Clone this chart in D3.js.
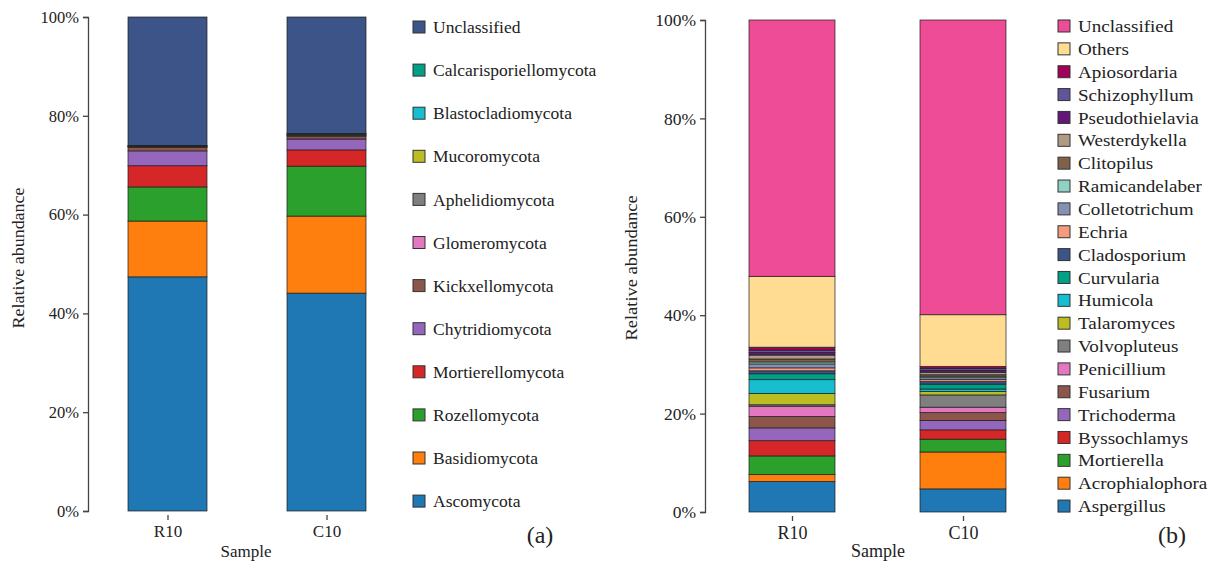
<!DOCTYPE html>
<html>
<head>
<meta charset="utf-8">
<script src="https://cdn.jsdelivr.net/npm/d3@7/dist/d3.min.js"></script>
<style>
  html, body { margin: 0; padding: 0; background: #fff; }
  svg { display: block; }
  text { font-family: "Liberation Serif", "DejaVu Serif", serif; fill: #222; }
</style>
</head>
<body>
<svg id="chart" width="1217" height="563"></svg>
<script>
// Samples shown on both panels
const samples = ["R10", "C10"];
const yTicks = [0, 20, 40, 60, 80, 100];

// Panel (a): phylum level, stacked bottom to top
const phyla = ["Ascomycota", "Basidiomycota", "Rozellomycota", "Mortierellomycota",
  "Chytridiomycota", "Kickxellomycota", "Glomeromycota", "Aphelidiomycota",
  "Mucoromycota", "Blastocladiomycota", "Calcarisporiellomycota", "Unclassified"];
const phylaR10 = [47.4, 11.3, 6.9, 4.3, 3.0, 0.7, 0.1, 0.1, 0.1, 0.05, 0.05, 26.0];
const phylaC10 = [44.1, 15.6, 10.1, 3.3, 2.2, 0.5, 0.2, 0.1, 0.1, 0.1, 0.1, 23.6];
const phylaColors = ["#1f77b4", "#ff7f0e", "#2ca02c", "#d62728", "#9467bd", "#8c564b",
  "#e377c2", "#7f7f7f", "#bcbd22", "#17becf", "#00a087", "#3c5488"];

// Panel (b): genus level, stacked bottom to top
const genera = ["Aspergillus", "Acrophialophora", "Mortierella", "Byssochlamys",
  "Trichoderma", "Fusarium", "Penicillium", "Volvopluteus", "Talaromyces", "Humicola",
  "Curvularia", "Cladosporium", "Echria", "Colletotrichum", "Ramicandelaber",
  "Clitopilus", "Westerdykella", "Pseudothielavia", "Schizophyllum", "Apiosordaria",
  "Others", "Unclassified"];
const generaR10 = [6.2, 1.4, 3.8, 3.1, 2.6, 2.3, 2.1, 0.3, 2.3, 2.8, 1.2,
  0.6, 0.6, 0.8, 0.4, 0.6, 0.8, 0.5, 0.5, 0.6, 14.4, 52.1];
const generaC10 = [4.7, 7.5, 2.6, 1.9, 1.9, 1.6, 1.1, 2.5, 0.7, 0.5, 1.0,
  0.5, 0.4, 0.4, 0.3, 0.3, 0.5, 0.4, 0.4, 0.4, 10.5, 59.9];
const generaColors = ["#1f77b4", "#ff7f0e", "#2ca02c", "#d62728", "#9467bd", "#8c564b",
  "#e377c2", "#7f7f7f", "#bcbd22", "#17becf", "#00a087", "#3c5488", "#f39b7f",
  "#8491b4", "#91d1c2", "#7e6148", "#b09c85", "#631879", "#5f559b", "#a20056",
  "#ffdc91", "#ee4c97"];

const svg = d3.select("#chart");

// widen a text element horizontally by factor k, keeping its start point
function stretch(sel, k) {
  sel.each(function () {
    const w = this.getComputedTextLength();
    d3.select(this).attr("textLength", w * k).attr("lengthAdjust", "spacingAndGlyphs");
  });
}

function drawPanel(cfg) {
  const { keys, valuesBySample, colors, top, bottom,
          legendX, legendTop, legendStep, tag, tagX, tagY, titleX } = cfg;
  const g = svg.append("g");

  const y = d3.scaleLinear().domain([0, 100]).range([bottom, top]);

  // rows of { sample, key values } for the stack
  const rows = samples.map((s, i) => {
    const r = { sample: s };
    keys.forEach((k, j) => { r[k] = valuesBySample[i][j]; });
    return r;
  });
  const stack = d3.stack().keys(keys)(rows);
  const color = d3.scaleOrdinal().domain(keys).range(colors);

  const bw = cfg.barWidth;
  const cx = d3.scalePoint().domain(samples).range(cfg.centers);

  g.selectAll("g.layer").data(stack).join("g")
    .attr("class", "layer")
    .attr("fill", d => color(d.key))
    .selectAll("rect").data(d => d).join("rect")
      .attr("x", d => cx(d.data.sample) - bw / 2)
      .attr("width", bw)
      .attr("y", d => y(d[1]))
      .attr("height", d => Math.max(0, y(d[0]) - y(d[1])))
      .attr("stroke", "#1a1a1a")
      .attr("stroke-width", 0.8)
      .attr("stroke-opacity", 0.85);

  // y axis
  const yAxis = d3.axisLeft(y).tickValues(yTicks).tickFormat(d => d + "%").tickSize(5).tickPadding(4);
  const ya = g.append("g").attr("transform", `translate(${cfg.axisX},0)`).call(yAxis);
  ya.select(".domain").attr("stroke", "#444").attr("stroke-width", 1.3);
  ya.selectAll(".tick line").attr("stroke", "#444").attr("stroke-width", 1.3);
  ya.selectAll(".tick text").style("font-family", "Liberation Serif, serif")
    .style("font-size", cfg.tickFont + "px").attr("fill", "#333");

  // x axis ticks at bar centers
  const xAxis = d3.axisBottom(cx).tickSize(5).tickPadding(5);
  const xa = g.append("g").attr("transform", `translate(0,${bottom + 4})`).call(xAxis);
  xa.select(".domain").remove();
  xa.selectAll(".tick line").attr("stroke", "#444").attr("stroke-width", 1.3);
  xa.selectAll(".tick text").style("font-family", "Liberation Serif, serif")
    .style("font-size", cfg.xFont + "px").attr("fill", "#333");

  g.append("text").attr("x", titleX).attr("y", 557).attr("text-anchor", "middle")
    .style("font-size", cfg.xFont + "px").attr("fill", "#333").text("Sample");
  const yl = g.append("text")
    .attr("transform", `translate(${cfg.ylabelX},${cfg.ylabelY}) rotate(-90)`)
    .attr("text-anchor", "middle").style("font-size", cfg.ylabelFont + "px").attr("fill", "#333")
    .text("Relative abundance");
  stretch(yl, cfg.ylabelStretch);

  // legend, top entry = last stacked key
  const legendKeys = keys.slice().reverse();
  const lg = g.append("g");
  const items = lg.selectAll("g").data(legendKeys).join("g")
    .attr("transform", (d, i) => `translate(${legendX},${legendTop + i * legendStep})`);
  items.append("rect").attr("x", 0).attr("y", -6).attr("width", 12).attr("height", 12)
    .attr("fill", d => color(d)).attr("stroke", "#333").attr("stroke-width", 1);
  const lt = items.append("text").attr("x", 20).attr("y", 0).attr("dy", "0.35em")
    .style("font-size", cfg.legendFont + "px").attr("fill", "#222").text(d => d);
  stretch(lt, cfg.legendStretch);

  g.append("text").attr("x", tagX).attr("y", tagY).attr("text-anchor", "middle")
    .style("font-size", "24px").attr("fill", "#111").text(tag);
}

drawPanel({
  keys: phyla, valuesBySample: [phylaR10, phylaC10], colors: phylaColors,
  top: 17, bottom: 511,
  centers: [167.5, 326.5], barWidth: 79, axisX: 88,
  ylabelX: 24, ylabelY: 258, ylabelFont: 16, ylabelStretch: 1.12,
  tickFont: 16.5, xFont: 17,
  legendX: 413, legendTop: 27, legendStep: 43.1, legendFont: 17.5, legendStretch: 1.0,
  tag: "(a)", tagX: 540, tagY: 543, titleX: 246
});

drawPanel({
  keys: genera, valuesBySample: [generaR10, generaC10], colors: generaColors,
  top: 20, bottom: 512,
  centers: [792, 963], barWidth: 86, axisX: 705,
  ylabelX: 637, ylabelY: 268, ylabelFont: 16.5, ylabelStretch: 1.12,
  tickFont: 17.5, xFont: 18,
  legendX: 1058, legendTop: 26, legendStep: 22.86, legendFont: 17.5, legendStretch: 1.09,
  tag: "(b)", tagX: 1172, tagY: 543, titleX: 878
});
</script>
</body>
</html>
